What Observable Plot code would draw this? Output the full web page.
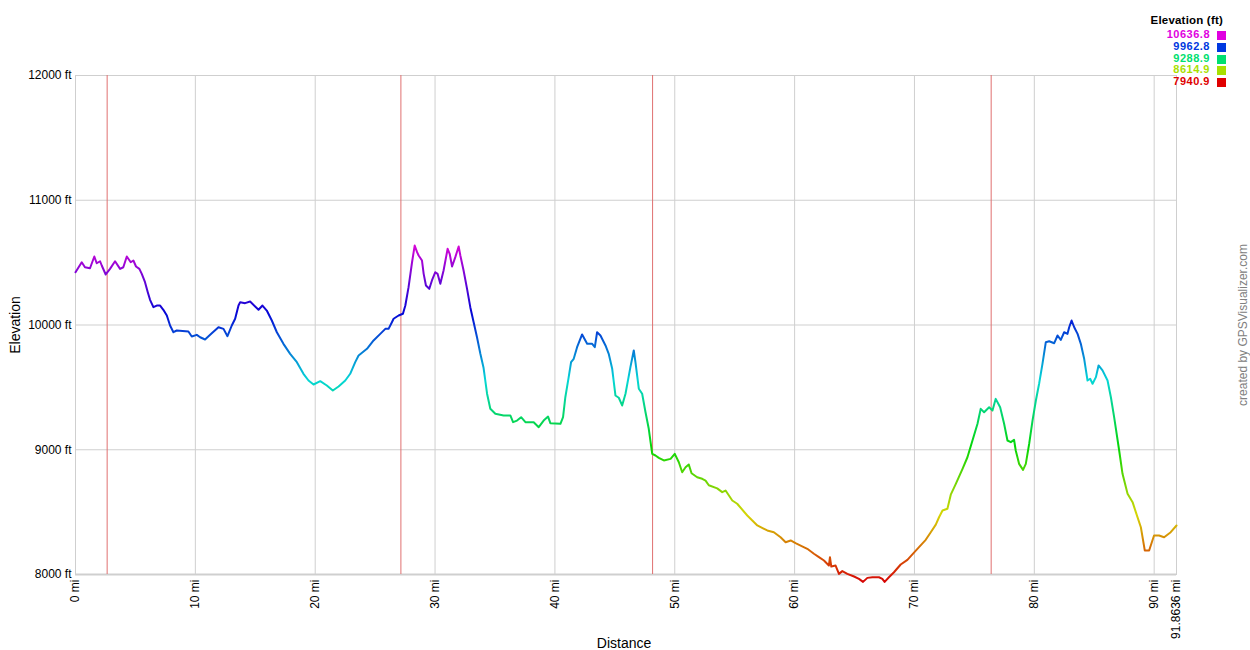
<!DOCTYPE html>
<html><head><meta charset="utf-8">
<script src="https://cdn.jsdelivr.net/npm/d3@7"></script>
<script src="https://cdn.jsdelivr.net/npm/@observablehq/plot@0.6"></script>
<style>
body{margin:0;background:#fff;font-family:"Liberation Sans",Arial,sans-serif;}
#wrap{position:relative;width:1250px;height:650px;overflow:hidden;}
#wrap svg{position:absolute;left:0;top:0;}
.abs{position:absolute;white-space:nowrap;}
</style></head><body><div id="wrap"></div>
<script>
const distance = [0,0.52,0.79,1.21,1.57,1.77,2.05,2.19,2.52,2.88,3.30,3.72,3.99,4.28,4.61,4.83,5.05,5.33,5.53,5.80,6.03,6.22,6.50,6.78,7.06,7.33,7.62,7.89,8.17,8.45,9.42,9.70,10.12,10.40,10.81,11.37,11.93,12.35,12.68,13.04,13.32,13.60,13.74,14.15,14.57,15.27,15.60,15.96,16.38,16.80,17.35,17.91,18.47,19.02,19.44,19.86,20.42,20.97,21.47,21.95,22.51,22.92,23.34,23.62,24.32,24.87,25.43,25.85,26.12,26.40,26.54,26.96,27.32,27.52,27.79,28.08,28.30,28.50,28.63,28.91,29.05,29.24,29.52,29.74,30.02,30.21,30.44,30.71,31.05,31.22,31.42,31.69,31.97,32.11,32.38,32.67,32.94,33.22,33.50,33.78,34.05,34.34,34.61,35.03,35.72,36.28,36.51,36.84,37.18,37.54,38.23,38.65,39.06,39.43,39.62,40.46,40.68,40.87,41.15,41.35,41.57,41.85,42.27,42.69,43.11,43.33,43.52,43.80,44.22,44.49,44.78,45.05,45.33,45.61,45.89,46.30,46.58,46.72,47.00,47.28,47.56,47.83,48.12,48.39,48.67,49.09,49.65,50.00,50.34,50.62,50.90,51.17,51.40,51.87,52.29,52.57,52.84,53.54,53.96,54.24,54.80,55.21,56.05,56.47,56.89,57.72,58.27,58.83,59.25,59.67,60.08,60.50,61.06,61.61,62.03,62.45,62.86,62.95,63.06,63.42,63.70,63.98,64.40,64.96,65.37,65.71,66.07,66.49,67.04,67.32,67.51,67.87,68.29,68.85,69.41,69.96,70.38,70.94,71.36,71.78,72.05,72.34,72.75,73.03,73.45,74.01,74.42,74.84,75.26,75.53,75.81,76.23,76.51,76.78,77.15,77.48,77.76,78.04,78.31,78.45,78.73,79.06,79.29,79.57,79.85,80.13,80.40,80.68,80.96,81.24,81.66,81.94,82.21,82.49,82.77,82.91,83.11,83.33,83.61,83.88,84.16,84.44,84.66,84.86,85.14,85.36,85.69,86.11,86.39,86.66,87.08,87.36,87.78,88.20,88.47,88.89,89.22,89.58,89.99,90.41,90.83,91.38,91.8636];
const elevation = [10423,10503,10463,10455,10549,10495,10511,10477,10405,10450,10511,10450,10463,10549,10503,10517,10469,10450,10410,10343,10263,10202,10143,10156,10156,10122,10076,9996,9942,9956,9948,9908,9921,9902,9884,9934,9982,9969,9910,9996,10050,10156,10183,10175,10188,10122,10156,10116,10036,9942,9849,9769,9702,9609,9555,9523,9550,9515,9475,9507,9555,9609,9702,9756,9809,9876,9929,9969,9969,10022,10050,10076,10090,10156,10303,10503,10637,10584,10557,10517,10410,10317,10290,10357,10423,10410,10330,10437,10611,10571,10469,10544,10629,10557,10437,10290,10143,10022,9902,9769,9655,9449,9328,9288,9275,9275,9221,9234,9261,9221,9221,9181,9234,9266,9213,9208,9261,9421,9582,9702,9729,9822,9924,9849,9849,9822,9942,9916,9836,9769,9649,9435,9417,9355,9449,9662,9796,9702,9489,9449,9301,9168,8967,8954,8935,8914,8927,8967,8900,8820,8860,8882,8812,8780,8767,8753,8715,8690,8660,8673,8593,8567,8473,8433,8393,8353,8339,8299,8259,8273,8251,8232,8206,8166,8139,8112,8072,8139,8064,8072,8005,8027,8005,7984,7965,7941,7973,7978,7978,7965,7941,7978,8018,8080,8117,8175,8219,8278,8339,8400,8459,8513,8527,8640,8727,8847,8940,9074,9208,9328,9301,9341,9315,9408,9341,9208,9074,9061,9080,8994,8887,8839,8887,9047,9234,9395,9529,9689,9862,9870,9854,9916,9881,9942,9929,9982,10036,9982,9929,9849,9729,9555,9569,9529,9582,9676,9636,9555,9421,9261,8994,8807,8647,8580,8500,8379,8192,8192,8313,8313,8299,8339,8393];
const waypoints = [2.64, 27.15, 48.15, 76.4];
const xTicks = [0,10,20,30,40,50,60,70,80,90,91.8636];
const yTicks = [8000,9000,10000,11000,12000];
const legendValues = [10636.8, 9962.8, 9288.9, 8614.9, 7940.9];
const elevMin = 7940.9, elevMax = 10636.8;

const hueOf = v => 300 * (v - elevMin) / (elevMax - elevMin);
const data = distance.map((d, i) => ({d, e: elevation[i]}));

const chart = Plot.plot({
  width: 1250, height: 650,
  marginLeft: 75, marginRight: 74, marginTop: 75, marginBottom: 76,
  style: {fontFamily: "'Liberation Sans', Arial, sans-serif", fontSize: "12px", background: "transparent", overflow: "visible", color: "#000"},
  x: {domain: [0, 91.8636], ticks: xTicks, tickFormat: d => d + " mi", tickRotate: -90, tickSize: 0, tickPadding: 5, label: null},
  y: {domain: [8000, 12000], ticks: yTicks, tickFormat: d => d + " ft", tickSize: 0, tickPadding: 4, label: null},
  marks: [
    Plot.ruleX(xTicks, {stroke: "#cfcfcf", strokeWidth: 1}),
    Plot.ruleY(yTicks, {stroke: "#cfcfcf", strokeWidth: 1}),
    Plot.frame({stroke: "#cfcfcf"}),
    Plot.ruleY([8000], {stroke: "#cfcfcf", strokeWidth: 2}),
    Plot.ruleX(waypoints, {stroke: "#e07070", strokeWidth: 1}),
    Plot.line(data, {x: "d", y: "e", stroke: "url(#elevGrad)", strokeWidth: 2, curve: "linear", strokeLinejoin: "round"})
  ]
});

// tick label sizes
chart.querySelectorAll('g[aria-label="x-axis tick label"], g[aria-label="y-axis tick label"]').forEach(g => {
  g.setAttribute("font-size", "12px");
  g.style.fontSize = "12px";
});

// vertical elevation gradient
const ys = chart.scale("y");
const ns = "http://www.w3.org/2000/svg";
const defs = document.createElementNS(ns, "defs");
const grad = document.createElementNS(ns, "linearGradient");
grad.setAttribute("id", "elevGrad");
grad.setAttribute("gradientUnits", "userSpaceOnUse");
grad.setAttribute("x1", 0); grad.setAttribute("x2", 0);
grad.setAttribute("y1", ys.apply(elevMin)); grad.setAttribute("y2", ys.apply(elevMax));
for (let k = 0; k <= 30; k++) {
  const t = k / 30;
  const s = document.createElementNS(ns, "stop");
  s.setAttribute("offset", t);
  s.setAttribute("stop-color", d3.hsl(300 * t, 0.95, 0.43).formatHex());
  grad.appendChild(s);
}
defs.appendChild(grad);
chart.insertBefore(defs, chart.firstChild);

const wrap = document.getElementById("wrap");
wrap.appendChild(chart);

// axis labels
const yl = document.createElement("div");
yl.className = "abs";
yl.textContent = "Elevation";
yl.style.cssText += "left:15px;top:325px;font-size:14px;transform:translate(-50%,-50%) rotate(-90deg);";
wrap.appendChild(yl);
const xl = document.createElement("div");
xl.className = "abs";
xl.textContent = "Distance";
xl.style.cssText += "left:624px;top:643px;font-size:14px;transform:translate(-50%,-50%);";
wrap.appendChild(xl);

// credit
const cr = document.createElement("div");
cr.className = "abs";
cr.textContent = "created by GPSVisualizer.com";
cr.style.cssText += "left:1243px;top:325px;font-size:12px;color:#808080;transform:translate(-50%,-50%) rotate(-90deg);";
wrap.appendChild(cr);

// legend
const lt = document.createElement("div");
lt.className = "abs";
lt.textContent = "Elevation (ft)";
lt.style.cssText += "right:27px;top:14px;font-size:11.5px;font-weight:bold;color:#000;letter-spacing:0.2px;";
wrap.appendChild(lt);
legendValues.forEach((v, i) => {
  const c = d3.hsl(hueOf(v), 1, 0.44).formatHex();
  const t = document.createElement("div");
  t.className = "abs";
  t.textContent = v.toFixed(1);
  t.style.cssText += `right:40px;top:${28 + i * 11.8}px;font-size:11px;font-weight:bold;color:${c};letter-spacing:0.5px;`;
  wrap.appendChild(t);
  const sw = document.createElement("div");
  sw.className = "abs";
  sw.style.cssText += `left:1217px;top:${31 + i * 11.8}px;width:9px;height:9px;background:${c};`;
  wrap.appendChild(sw);
});
</script>
</body></html>
